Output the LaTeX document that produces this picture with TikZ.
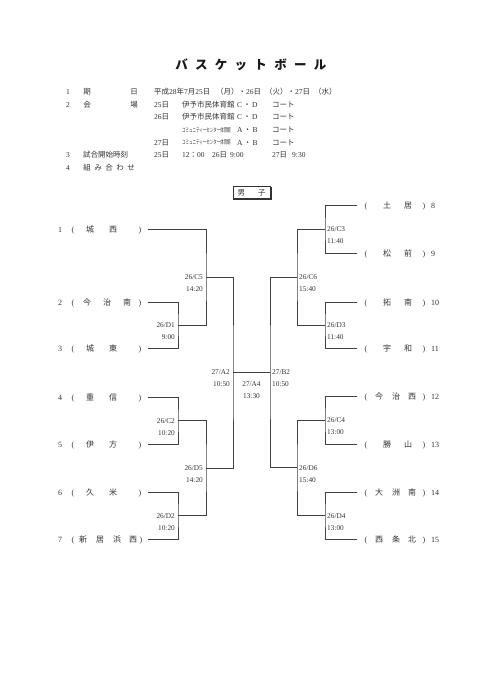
\documentclass[tikz,border=0pt]{standalone}
\usepackage{fontspec}
\usepackage{graphicx}
\setmainfont{Liberation Serif}
\newfontfamily\jp{Noto Sans CJK JP}
\usetikzlibrary{calc}
\definecolor{txt}{gray}{0.2}
\definecolor{ln}{gray}{0.25}
\newcommand{\TmNode}[3]{\node[team] (#1) at (#2) {#3};}
\begin{document}
\begin{tikzpicture}[x=1pt,y=-1pt,
  title/.style={font=\jp\bfseries\fontsize{12.5}{13}\selectfont, text=black!90, inner sep=0pt, anchor=base},
  hd/.style={font=\fontsize{7.5}{9}\selectfont, text=txt, inner sep=0pt, anchor=base west},
  hdc/.style={hd, anchor=base},
  team/.style={font=\fontsize{8}{9}\selectfont, text=txt, inner sep=0pt, anchor=base},
  lab/.style={font=\fontsize{7.3}{9}\selectfont, text=txt, inner sep=0pt},
  labl/.style={lab, anchor=base east},
  labr/.style={lab, anchor=base west},
  labc/.style={lab, anchor=base},
  br/.style={draw=ln, line width=0.8pt}]
\useasboundingbox (0,0) rectangle (481,680);
% title
\foreach \c [count=\i from 0] in {バ,ス,ケ,ッ,ト,ボ,ー,ル}
  \node[title] (ti\i) at ({181.7+19.76*\i},69.5) {\c};
% header
\node[hdc] (h1n) at (68,94.6) {1};
\node[hdc] (h1a) at (87,94.6) {\jp 期};
\node[hdc] (h1b) at (134,94.6) {\jp 日};
\node[hd] (h1c) at (154,94.6) {{\jp 平成}28{\jp 年}7{\jp 月}25{\jp 日}};
\node[hd] (h1d) at (216,94.6) {{\jp （月）・}26{\jp 日}};
\node[hd] (h1e) at (265,94.6) {{\jp （火）・}27{\jp 日}};
\node[hd] (h1f) at (314,94.6) {\jp （水）};
\node[hdc] (h2n) at (68,107.1) {2};
\node[hdc] (h2a) at (87,107.1) {\jp 会};
\node[hdc] (h2b) at (134,107.1) {\jp 場};
\node[hd] (h2c) at (154,107.1) {25{\jp 日}};
\node[hd] (h2d) at (182,107.1) {\jp 伊予市民体育館};
\node[hd] (h2e) at (237,107.1) {C\,{\jp ・}\,D};
\node[hd] (h2f) at (272,107.1) {\jp コート};
\node[hd] (h3c) at (154,119.6) {26{\jp 日}};
\node[hd] (h3d) at (182,119.6) {\jp 伊予市民体育館};
\node[hd] (h3e) at (237,119.6) {C\,{\jp ・}\,D};
\node[hd] (h3f) at (272,119.6) {\jp コート};
\node[hd] (h4d) at (182,132.4) {\scalebox{0.58}[1]{\jp\fontsize{6}{7}\selectfont コミュニティーセンター体育館}};
\node[hd] (h4e) at (237,132.6) {A\,{\jp ・}\,B};
\node[hd] (h4f) at (272,132.6) {\jp コート};
\node[hd] (h5c) at (154,145.1) {27{\jp 日}};
\node[hd] (h5d) at (182,144.9) {\scalebox{0.58}[1]{\jp\fontsize{6}{7}\selectfont コミュニティーセンター体育館}};
\node[hd] (h5e) at (237,145.1) {A\,{\jp ・}\,B};
\node[hd] (h5f) at (272,145.1) {\jp コート};
\node[hdc] (h6n) at (68,157.6) {3};
\node[hd] (h6a) at (83,157.6) {\jp 試合開始時刻};
\node[hd] (h6c) at (154,157.6) {25{\jp 日}};
\node[hd] (h6d) at (182,157.6) {12{\jp ：}00};
\node[hd] (h6e) at (212,157.6) {26{\jp 日}};
\node[hd] (h6f) at (230,157.6) {9:00};
\node[hd] (h6g) at (272,157.6) {27{\jp 日}};
\node[hd] (h6h) at (292,157.6) {9:30};
\node[hdc] (h7n) at (68,170.1) {4};
\foreach \c [count=\i from 0] in {組,み,合,わ,せ}
  \node[hdc] (h7c\i) at ({87+11*\i},170.1) {\jp \c};
% box
\node[draw=black!80, line width=0.8pt, minimum width=37pt, minimum height=11.5pt, inner sep=0pt,
      font=\jp\fontsize{7.5}{9}\selectfont, text=txt] (sex) at (251.5,192.5) {男\hspace{13pt}子};
\draw[black!80, line width=0.6pt] ($(sex.south west)+(0.8,0.8)$) -- ($(sex.south east)+(0.8,0.8)$) -- ($(sex.north east)+(0.8,0.8)$);
% left teams
\foreach \n/\y/\a/\b in {1/232/城/西, 3/351/城/東, 4/400/重/信, 5/447/伊/方, 6/495/久/米} {
  \node[team] (ln\n) at (60,\y) {\n};
  \node[team] (lo\n) at (73,\y) {(};
  \node[team] (la\n) at (90,\y) {\jp \a};
  \node[team] (lb\n) at (113,\y) {\jp \b};
  \node[team] (lc\n) at (140,\y) {)};
}
\node[team] (ln2) at (60,305) {2};
\node[team] (lo2) at (73,305) {(};
\TmNode{la2}{87,305}{\jp 今}
\TmNode{lb2}{107,305}{\jp 治}
\TmNode{lx2}{127,305}{\jp 南}
\node[team] (lc2) at (140,305) {)};
\node[team] (ln7) at (60,542) {7};
\node[team] (lo7) at (73,542) {(};
\TmNode{la7}{83,542}{\jp 新}
\TmNode{lb7}{100,542}{\jp 居}
\TmNode{lx7}{117,542}{\jp 浜}
\TmNode{ly7}{133,542}{\jp 西}
\node[team] (lc7) at (141,542) {)};
% right teams
\foreach \n/\y/\a/\b in {8/208/土/居, 9/256/松/前, 10/305/拓/南, 11/351/宇/和, 13/447/勝/山} {
  \node[team] (ro\n) at (366,\y) {(};
  \node[team] (ra\n) at (387,\y) {\jp \a};
  \node[team] (rb\n) at (408,\y) {\jp \b};
  \node[team] (rc\n) at (424,\y) {)};
  \node[team, anchor=base west] (rn\n) at (431,\y) {\n};
}
\foreach \n/\y/\a/\b/\c in {12/399/今/治/西, 14/495/大/洲/南, 15/542/西/条/北} {
  \node[team] (ro\n) at (366,\y) {(};
  \node[team] (ra\n) at (379,\y) {\jp \a};
  \node[team] (rb\n) at (396,\y) {\jp \b};
  \node[team] (rx\n) at (412,\y) {\jp \c};
  \node[team] (rc\n) at (424,\y) {)};
  \node[team, anchor=base west] (rn\n) at (431,\y) {\n};
}
% bracket coordinates
\coordinate (a1) at (148,229);
\coordinate (a2) at (148,302);
\coordinate (a3) at (148,348);
\coordinate (a4) at (148,397);
\coordinate (a5) at (148,444);
\coordinate (a6) at (148,492);
\coordinate (a7) at (148,539);
\coordinate (d1) at (178,325);
\coordinate (c5) at (206,277);
\coordinate (c2) at (178,420.5);
\coordinate (d2) at (178,515.5);
\coordinate (d5) at (206,468);
\coordinate (A2) at (233,372);
\coordinate (B2) at (270,372);
\coordinate (r8) at (357,205);
\coordinate (r9) at (357,253);
\coordinate (r10) at (357,302);
\coordinate (r11) at (357,348);
\coordinate (r12) at (357,396);
\coordinate (r13) at (357,444);
\coordinate (r14) at (357,492);
\coordinate (r15) at (357,539);
\coordinate (c3) at (325,229);
\coordinate (d3) at (325,325);
\coordinate (c6) at (297,277);
\coordinate (c4) at (325,420);
\coordinate (d4) at (325,515.5);
\coordinate (d6) at (297,467.75);
% bracket lines
\draw[br] (a2) -| (d1) |- (a3);
\draw[br] (a1) -| (c5) |- (d1);
\draw[br] (a4) -| (c2) |- (a5);
\draw[br] (a6) -| (d2) |- (a7);
\draw[br] (c2) -| (d5) |- (d2);
\draw[br] (c5) -| (A2) |- (d5);
\draw[br] (A2) -- (B2);
\draw[br] (r8) -| (c3) |- (r9);
\draw[br] (r10) -| (d3) |- (r11);
\draw[br] (c3) -| (c6) |- (d3);
\draw[br] (r12) -| (c4) |- (r13);
\draw[br] (r14) -| (d4) |- (r15);
\draw[br] (c4) -| (d6) |- (d4);
\draw[br] (c6) -| (B2) |- (d6);
% match labels (left)
\foreach \m/\t/\u in {d1/26\slash D1/9:00, c5/26\slash C5/14:20, c2/26\slash C2/10:20, d2/26\slash D2/10:20, d5/26\slash D5/14:20, A2/27\slash A2/10:50} {
  \node[labl] (lt\m) at ($(\m)+(-3,2.6)$) {\t};
  \node[labl] (lu\m) at ($(\m)+(-3,14.6)$) {\u};
}
\foreach \m/\t/\u in {c3/26\slash C3/11:40, d3/26\slash D3/11:40, c6/26\slash C6/15:40, c4/26\slash C4/13:00, d4/26\slash D4/13:00, d6/26\slash D6/15:40, B2/27\slash B2/10:50} {
  \node[labr] (lt\m) at ($(\m)+(2,2.6)$) {\t};
  \node[labr] (lu\m) at ($(\m)+(2,14.6)$) {\u};
}
\node[labc] (ltA4) at ($(A2)!0.5!(B2)+(0,14.6)$) {27/A4};
\node[labc] (luA4) at ($(A2)!0.5!(B2)+(0,26.6)$) {13:30};
\end{tikzpicture}
\end{document}
